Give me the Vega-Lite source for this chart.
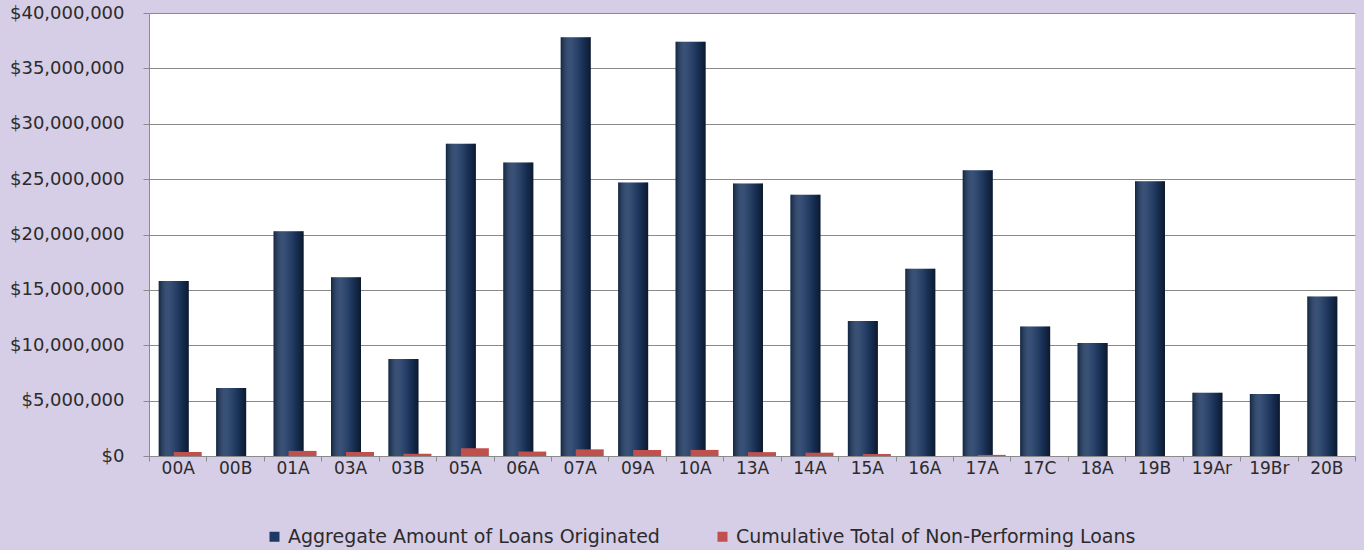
{
  "$schema": "https://vega.github.io/schema/vega-lite/v6.json",
  "width": 1364,
  "height": 550,
  "autosize": {"type": "fit", "contains": "padding"},
  "padding": {"left": 9, "top": 4, "right": 8, "bottom": 74},
  "background": "#d6cde6",
  "config": {
    "view": {"fill": "white", "stroke": null},
    "font": "DejaVu Sans",
    "axis": {"labelFont": "DejaVu Sans", "labelColor": "#2b2b2b", "labelFontSize": 17, "domainColor": "#8a8a8a", "tickColor": "#8a8a8a", "gridColor": "#8a8a8a"},
    "legend": {"labelFont": "DejaVu Sans", "labelColor": "#2b2b2b", "labelFontSize": 19, "labelLimit": 0}
  },
  "data": {"values": [
    {"id": "00A", "series": "Aggregate Amount of Loans Originated", "value": 15800000},
    {"id": "00B", "series": "Aggregate Amount of Loans Originated", "value": 6150000},
    {"id": "01A", "series": "Aggregate Amount of Loans Originated", "value": 20300000},
    {"id": "03A", "series": "Aggregate Amount of Loans Originated", "value": 16150000},
    {"id": "03B", "series": "Aggregate Amount of Loans Originated", "value": 8750000},
    {"id": "05A", "series": "Aggregate Amount of Loans Originated", "value": 28200000},
    {"id": "06A", "series": "Aggregate Amount of Loans Originated", "value": 26500000},
    {"id": "07A", "series": "Aggregate Amount of Loans Originated", "value": 37800000},
    {"id": "09A", "series": "Aggregate Amount of Loans Originated", "value": 24700000},
    {"id": "10A", "series": "Aggregate Amount of Loans Originated", "value": 37400000},
    {"id": "13A", "series": "Aggregate Amount of Loans Originated", "value": 24600000},
    {"id": "14A", "series": "Aggregate Amount of Loans Originated", "value": 23600000},
    {"id": "15A", "series": "Aggregate Amount of Loans Originated", "value": 12200000},
    {"id": "16A", "series": "Aggregate Amount of Loans Originated", "value": 16900000},
    {"id": "17A", "series": "Aggregate Amount of Loans Originated", "value": 25800000},
    {"id": "17C", "series": "Aggregate Amount of Loans Originated", "value": 11700000},
    {"id": "18A", "series": "Aggregate Amount of Loans Originated", "value": 10200000},
    {"id": "19B", "series": "Aggregate Amount of Loans Originated", "value": 24800000},
    {"id": "19Ar", "series": "Aggregate Amount of Loans Originated", "value": 5700000},
    {"id": "19Br", "series": "Aggregate Amount of Loans Originated", "value": 5600000},
    {"id": "20B", "series": "Aggregate Amount of Loans Originated", "value": 14400000},
    {"id": "00A", "series": "Cumulative Total of Non-Performing Loans", "value": 360000},
    {"id": "00B", "series": "Cumulative Total of Non-Performing Loans", "value": 0},
    {"id": "01A", "series": "Cumulative Total of Non-Performing Loans", "value": 460000},
    {"id": "03A", "series": "Cumulative Total of Non-Performing Loans", "value": 360000},
    {"id": "03B", "series": "Cumulative Total of Non-Performing Loans", "value": 200000},
    {"id": "05A", "series": "Cumulative Total of Non-Performing Loans", "value": 700000},
    {"id": "06A", "series": "Cumulative Total of Non-Performing Loans", "value": 400000},
    {"id": "07A", "series": "Cumulative Total of Non-Performing Loans", "value": 600000},
    {"id": "09A", "series": "Cumulative Total of Non-Performing Loans", "value": 550000},
    {"id": "10A", "series": "Cumulative Total of Non-Performing Loans", "value": 550000},
    {"id": "13A", "series": "Cumulative Total of Non-Performing Loans", "value": 350000},
    {"id": "14A", "series": "Cumulative Total of Non-Performing Loans", "value": 300000},
    {"id": "15A", "series": "Cumulative Total of Non-Performing Loans", "value": 180000},
    {"id": "16A", "series": "Cumulative Total of Non-Performing Loans", "value": 0},
    {"id": "17A", "series": "Cumulative Total of Non-Performing Loans", "value": 100000},
    {"id": "17C", "series": "Cumulative Total of Non-Performing Loans", "value": 0},
    {"id": "18A", "series": "Cumulative Total of Non-Performing Loans", "value": 0},
    {"id": "19B", "series": "Cumulative Total of Non-Performing Loans", "value": 0},
    {"id": "19Ar", "series": "Cumulative Total of Non-Performing Loans", "value": 0},
    {"id": "19Br", "series": "Cumulative Total of Non-Performing Loans", "value": 0},
    {"id": "20B", "series": "Cumulative Total of Non-Performing Loans", "value": 0}
  ]},
  "encoding": {
    "x": {"field": "id", "type": "nominal", "sort": null,
      "scale": {"paddingInner": 0, "paddingOuter": 0},
      "axis": {"title": null, "labelAngle": 0, "tickBand": "extent", "tickSize": 5, "labelPadding": -1, "domainColor": "#8a8a8a"}},
    "y": {"field": "value", "type": "quantitative",
      "scale": {"domain": [0, 40000000]},
      "axis": {"title": null, "format": "$,.0f", "values": [0, 5000000, 10000000, 15000000, 20000000, 25000000, 30000000, 35000000, 40000000], "tickSize": 6, "labelPadding": 19, "labelFontSize": 18, "gridWidth": 1}}
  },
  "layer": [
    {
      "transform": [{"filter": "datum.series === 'Aggregate Amount of Loans Originated'"}],
      "mark": {"type": "bar", "width": 30, "xOffset": -4},
      "encoding": {"color": {"field": "series", "type": "nominal",
        "scale": {"domain": ["Aggregate Amount of Loans Originated", "Cumulative Total of Non-Performing Loans"], "range": ["#1c3864", "#c0504d"]},
        "legend": {"title": null, "orient": "none", "legendX": 116, "legendY": 514, "direction": "horizontal", "symbolType": "square", "symbolSize": 100, "columnPadding": 53, "labelFontSize": 19, "labelLimit": 0}}}
    },
    {
      "transform": [{"filter": "datum.series === 'Aggregate Amount of Loans Originated'"}],
      "mark": {"type": "bar", "width": 30, "xOffset": -4, "fill": {"gradient": "linear", "x1": 0, "x2": 1, "y1": 0, "y2": 0, "stops": [
        {"offset": 0, "color": "rgba(0,0,0,0.35)"},
        {"offset": 0.35, "color": "rgba(255,255,255,0.12)"},
        {"offset": 0.75, "color": "rgba(0,0,0,0.15)"},
        {"offset": 1, "color": "rgba(0,0,0,0.55)"}]}}
    },
    {
      "transform": [{"filter": "datum.series === 'Cumulative Total of Non-Performing Loans'"}],
      "mark": {"type": "bar", "width": 28, "xOffset": 10},
      "encoding": {"color": {"field": "series", "type": "nominal"}}
    }
  ]
}
